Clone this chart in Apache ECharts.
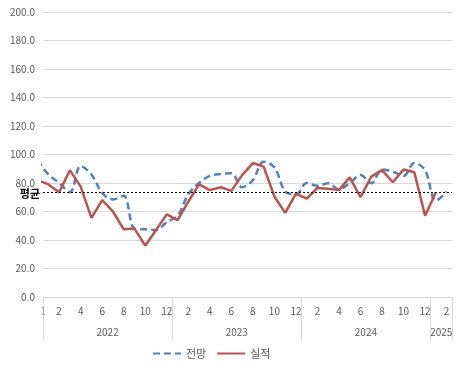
<!DOCTYPE html>
<html><head><meta charset="utf-8">
<script src="https://cdn.jsdelivr.net/npm/echarts@6/dist/echarts.min.js"></script>
<style>html,body{margin:0;padding:0;background:#fff}#c{width:465px;height:373px}</style>
</head><body><div id="c"></div>
<script>
// Years and month counts per year
const YEARS = ['2022', '2023', '2024', '2025'];
const YEAR_MONTHS = [12, 12, 12, 2];
// Month labels (38 categories, 2022-01 .. 2025-02)
const MONTHS = [];
YEAR_MONTHS.forEach(n => { for (let m = 1; m <= n; m++) MONTHS.push(String(m)); });

// 전망 (forecast), 2022-01 .. 2025-02
const FORECAST = [86, 80, 73.5, 92, 86, 73, 68.5, 71, 48, 47.5, 47, 52.5,
                  57, 72, 80, 85, 86.3, 86.8, 77, 82, 95, 91, 74, 72,
                  80, 78, 79.8, 75.6, 80, 85.6, 79.8, 89.5, 88, 85, 94, 89,
                  67.5, 74];
// 실적 (actual), 2022-01 .. 2025-02
const ACTUAL = [79, 73.5, 89, 77.5, 55.5, 68, 60, 47.5, 48, 36, 47, 58,
                54, 67, 79, 75, 77, 74.5, 85.5, 94, 91.5, 70.5, 59, 72.5,
                69, 76.5, 76, 75, 84, 70, 84.5, 89, 80.5, 89.5, 87.5, 57,
                73.5, null];
// values of the month before the window (2021-12), partly visible at the left edge
const FORECAST_PREV = 96;
const ACTUAL_PREV = 82;
// 평균 (average) reference line
const AVG = 73.5;
const Y_MIN = 0, Y_MAX = 200, Y_STEP = 20;

// year group axis: boundaries 0..38
const YEAR_SLOTS = new Array(MONTHS.length + 1).fill('');
const SEPARATORS = [0];
let acc = 0;
YEARS.forEach((y, k) => {
  YEAR_SLOTS[Math.floor(acc + YEAR_MONTHS[k] / 2)] = y;
  acc += YEAR_MONTHS[k];
  SEPARATORS.push(acc);
});

function toPoints(prev, arr) {
  const pts = [[-0.5, prev]];
  arr.forEach((v, i) => { if (v !== null) pts.push([i + 0.5, v]); });
  return pts;
}

const FONT = "'Noto Sans CJK KR', 'Noto Sans', sans-serif";
const chart = echarts.init(document.getElementById('c'));
chart.setOption({
  animation: false,
  textStyle: { fontFamily: FONT },
  grid: { left: 43, right: 13, top: 12, bottom: 76, containLabel: false },
  xAxis: [
    { type: 'value', min: 0, max: MONTHS.length, show: false },
    {
      type: 'category', data: MONTHS, boundaryGap: true, position: 'bottom',
      axisLine: { show: true, lineStyle: { color: '#d9d9d9', width: 1 } },
      axisTick: { show: false },
      axisLabel: {
        interval: (i) => i === 0 || i % 2 === 1,
        formatter: (v, i) => i === 0 ? '{first|' + v + '}' : v,
        rich: { first: { fontSize: 10, color: '#9a9a9a', padding: [0, 10, 0, 0], fontFamily: FONT } },
        margin: 9, fontSize: 10, color: '#595959', fontFamily: FONT
      },
      splitLine: { show: false }
    },
    {
      type: 'category', data: YEAR_SLOTS, boundaryGap: false, position: 'bottom',
      axisLine: { show: false },
      axisTick: { show: true, length: 44, interval: (i) => SEPARATORS.includes(i),
                  lineStyle: { color: '#d9d9d9', width: 1 } },
      axisLabel: { interval: (i, v) => v !== '', margin: 30, fontSize: 10, color: '#595959', fontFamily: FONT },
      splitLine: { show: false }
    }
  ],
  yAxis: {
    type: 'value', min: Y_MIN, max: Y_MAX, interval: Y_STEP,
    axisLine: { show: false }, axisTick: { show: false },
    axisLabel: { formatter: v => v.toFixed(1), fontSize: 10, color: '#595959', margin: 8, fontFamily: FONT },
    splitLine: { lineStyle: { color: '#d9d9d9', width: 1 } }
  },
  legend: {
    left: 147, top: 343, itemWidth: 28, itemHeight: 10, itemGap: 10,
    itemStyle: { opacity: 0 },
    textStyle: { fontSize: 11, color: '#595959', fontFamily: FONT },
    data: ['전망', '실적']
  },
  series: [
    {
      name: '전망', type: 'line', xAxisIndex: 0, smooth: 0.35, symbol: 'none', clip: true,
      data: toPoints(FORECAST_PREV, FORECAST),
      lineStyle: { color: '#4f81bd', width: 2.5, type: [7, 4] },
      itemStyle: { color: '#4f81bd' }
    },
    {
      name: '실적', type: 'line', xAxisIndex: 0, symbol: 'none', clip: true,
      data: toPoints(ACTUAL_PREV, ACTUAL),
      lineStyle: { color: '#c0504d', width: 2.5 },
      itemStyle: { color: '#c0504d' },
      markLine: {
        silent: true, symbol: 'none',
        lineStyle: { color: '#000', type: [2, 2], width: 1 },
        label: { show: true, position: 'start', formatter: '평균', color: '#000', fontSize: 11, fontWeight: 'bold', fontFamily: FONT, distance: 3, offset: [0, 2] },
        data: [{ yAxis: AVG }]
      }
    }
  ]
});
</script></body></html>
